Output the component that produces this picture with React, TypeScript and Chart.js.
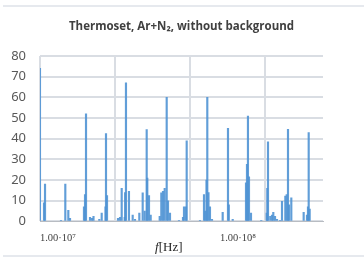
import React, { useEffect, useRef } from "react";
import { Chart, registerables } from "chart.js";

Chart.register(...registerables);

// Frequency (MHz) of each spectral line and its intensity
const freqMHz = [
  7.94, 8.36, 8.47, 10.39, 10.98, 11.41, 11.66, 13.94, 14.13, 14.31, 15.06, 15.45, 15.75,
  16.96, 17.49, 18.36, 18.48, 18.72, 21.54, 22.11, 22.59, 23.47, 23.6, 23.86, 24.79, 26.0,
  26.78, 28.3, 29.55, 30.31, 31.1, 31.34, 32.03, 32.73, 36.73, 37.49, 38.31, 39.15, 40.17,
  40.84, 41.9, 47.01, 49.48, 50.12, 51.41, 51.88, 61.51, 64.74, 65.82, 66.83, 67.52, 68.56,
  69.88, 71.7, 82.22, 87.99, 88.9, 93.46, 110.8, 112.2, 113.6, 115.1, 118.1, 134.7, 144.4,
  145.5, 146.8, 151.1, 154.5, 157.1, 160.6, 164.7, 171.2, 175.6, 183.2, 186.5, 189.6, 192.0,
  197.8, 231.7, 241.7, 244.8, 247.1, 250.2,
];
const intensity = [
  74, 9, 18, 0.5, 18, 5.4, 1.5, 7, 13, 52, 2, 1.5, 2.5,
  1, 4, 7, 42.5, 12.5, 1.5, 2, 16, 2, 14, 67, 14.6, 3,
  1, 4, 13.8, 5, 44.4, 21, 12.5, 3, 2.5, 13.8, 14.5, 16, 60,
  10, 4, 0.5, 2, 7, 7, 39, 0.5, 13, 5, 20, 60, 14,
  7, 1, 4.4, 45, 8, 1, 18.7, 27.6, 51, 21.6, 4, 0.5, 4,
  16, 38.5, 2.5, 3, 4.4, 2.5, 1, 0.5, 9.7, 12.2, 13, 44.5, 8,
  11.4, 4.4, 3, 7, 43, 6,
];

const xMin = 7.943;
const xMax = 296.7;
const gridMHz = [7.943, 20.74, 54.12, 141.3];
const labelMHz = [10, 100];
const tickLabels = ["1.00·10⁷", "1.00·10⁸"];
const yTicks = [0, 10, 20, 30, 40, 50, 60, 70, 80];

const titleText = "Thermoset, Ar+N₂, without background";
const gridColor = "#d9dde3";

const textPlugin = {
  id: "texts",
  afterDraw(chart: any) {
    const { ctx, chartArea } = chart;
    ctx.save();
    // chart title
    ctx.fillStyle = "#404040";
    ctx.textAlign = "center";
    ctx.textBaseline = "middle";
    ctx.font = "bold 11.5px 'Open Sans'";
    ctx.fillText(titleText, 181.5, 27);
    // x-axis title
    ctx.textAlign = "left";
    ctx.fillStyle = "#262626";
    ctx.font = "italic 13px 'Liberation Serif'";
    const fW = ctx.measureText("f").width;
    ctx.font = "13px 'Liberation Serif'";
    const rW = ctx.measureText("[Hz]").width;
    const cx = chartArea.left + (chartArea.right - chartArea.left) * 0.455;
    const x0 = cx - (fW + rW) / 2;
    const y = 248;
    ctx.font = "italic 13px 'Liberation Serif'";
    ctx.fillText("f", x0, y);
    ctx.font = "13px 'Liberation Serif'";
    ctx.fillText("[Hz]", x0 + fW, y);
    ctx.restore();
  },
};

export default function App() {
  const ref = useRef<HTMLCanvasElement | null>(null);

  useEffect(() => {
    if (!ref.current) return;
    const data = freqMHz.map((f, i) => ({ x: f, y: intensity[i] }));
    const chart = new Chart(ref.current, {
      type: "bar",
      data: {
        datasets: [
          {
            data: data as any,
            backgroundColor: "rgba(80,148,212,0.9)",
            borderWidth: 0,
            barThickness: 1.5,
            grouped: false,
          } as any,
        ],
      },
      plugins: [textPlugin],
      options: {
        animation: false,
        responsive: false,
        maintainAspectRatio: false,
        layout: { padding: { left: 8, right: 41, top: 56, bottom: 6 } },
        plugins: {
          legend: { display: false },
          tooltip: { enabled: false },
          title: { display: false },
        },
        scales: {
          x: {
            type: "logarithmic",
            min: xMin,
            max: xMax,
            offset: false,
            afterBuildTicks: (scale: any) => {
              const vals = [...gridMHz, ...labelMHz].sort((a, b) => a - b);
              scale.ticks = vals.map((v) => ({ value: v }));
            },
            grid: {
              offset: false,
              color: (c: any) =>
                c.tick && labelMHz.includes(c.tick.value) ? "rgba(0,0,0,0)" : gridColor,
              lineWidth: 2,
              drawTicks: false,
            },
            border: { display: true, color: "#b8bcc2", width: 1 },
            ticks: {
              autoSkip: false,
              maxRotation: 0,
              padding: 11,
              color: "#404040",
              font: { family: "'Liberation Serif'", size: 10.5 },
              callback: (v: any) => {
                const i = labelMHz.indexOf(Number(v));
                return i >= 0 ? tickLabels[i] : "";
              },
            },
          },
          y: {
            min: 0,
            max: 80,
            afterBuildTicks: (scale: any) => {
              scale.ticks = yTicks.map((v) => ({ value: v }));
            },
            afterFit: (scale: any) => {
              scale.width = 32;
            },
            grid: { display: true, drawOnChartArea: true, color: gridColor, lineWidth: 2, drawTicks: false },
            border: { display: false },
            ticks: {
              padding: 14,
              color: "#595959",
              font: { family: "'Noto Sans'", size: 13 },
            },
          },
        },
      } as any,
    });
    return () => chart.destroy();
  }, []);

  return (
    <div style={{ position: "absolute", left: 0, top: 0, width: 364, height: 262, background: "#fff" }}>
      <div style={{ position: "absolute", left: 3, right: 0, top: 5, height: 2, background: "#e6e9ee" }} />
      <div style={{ position: "absolute", left: 3, right: 0, top: 255, height: 2, background: "#e6e9ee" }} />
      <canvas ref={ref} width={364} height={262} style={{ position: "absolute", left: 0, top: 0 }} />
    </div>
  );
}
